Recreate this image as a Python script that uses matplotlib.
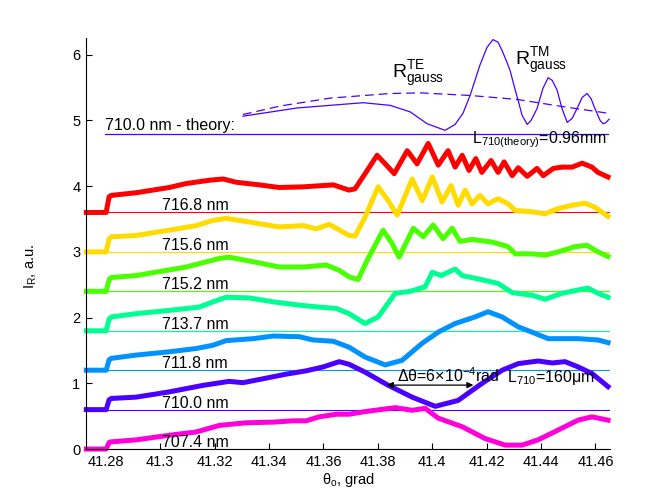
import matplotlib
matplotlib.use("Agg")
import matplotlib.pyplot as plt

plt.rcParams["font.family"] = ["Liberation Sans", "DejaVu Sans"]
plt.rcParams["mathtext.fontset"] = "custom"
plt.rcParams["mathtext.rm"] = "Liberation Sans"
plt.rcParams["mathtext.it"] = "Liberation Sans:italic"

# ---- measured traces (angle in grad, offset reflectance in a.u.) ----
x_716_8 = [41.2728, 41.2801, 41.2812, 41.2820, 41.2911, 41.3033, 41.3095, 41.3180, 41.3231, 41.3279,
           41.3364, 41.3437, 41.3526, 41.3636, 41.3694, 41.3716, 41.3753, 41.3797, 41.3827, 41.3860,
           41.3908, 41.3944, 41.3985, 41.4022, 41.4058, 41.4084, 41.4110, 41.4135, 41.4160, 41.4182,
           41.4216, 41.4242, 41.4264, 41.4294, 41.4316, 41.4349, 41.4385, 41.4408, 41.4445, 41.4477,
           41.4514, 41.4551, 41.4587, 41.4609, 41.4646]
y_716_8 = [3.60, 3.60, 3.84, 3.86, 3.90, 3.98, 4.04, 4.09, 4.11, 4.06,
           4.02, 3.98, 3.99, 4.02, 3.94, 3.96, 4.19, 4.47, 4.34, 4.19,
           4.54, 4.34, 4.65, 4.32, 4.54, 4.29, 4.47, 4.24, 4.42, 4.21,
           4.39, 4.21, 4.37, 4.16, 4.28, 4.15, 4.27, 4.16, 4.27, 4.29,
           4.29, 4.35, 4.29, 4.21, 4.14]

x_715_6 = [41.2728, 41.2801, 41.2812, 41.2820, 41.2911, 41.3033, 41.3132, 41.3194, 41.3242, 41.3290,
           41.3364, 41.3437, 41.3526, 41.3573, 41.3621, 41.3694, 41.3716, 41.3753, 41.3801, 41.3838,
           41.3871, 41.3926, 41.3963, 41.4000, 41.4036, 41.4069, 41.4095, 41.4121, 41.4146, 41.4175,
           41.4205, 41.4242, 41.4279, 41.4305, 41.4367, 41.4415, 41.4463, 41.4514, 41.4562, 41.4598,
           41.4646]
y_715_6 = [3.00, 3.00, 3.20, 3.23, 3.25, 3.33, 3.40, 3.48, 3.51, 3.48,
           3.43, 3.38, 3.40, 3.35, 3.42, 3.25, 3.24, 3.53, 3.99, 3.78,
           3.56, 4.11, 3.78, 4.14, 3.76, 4.01, 3.71, 3.94, 3.73, 3.86,
           3.73, 3.81, 3.73, 3.63, 3.61, 3.58, 3.66, 3.71, 3.74, 3.68,
           3.54]

x_715_2 = [41.2728, 41.2801, 41.2812, 41.2820, 41.2911, 41.3095, 41.3217, 41.3253, 41.3342, 41.3437,
           41.3526, 41.3610, 41.3658, 41.3694, 41.3727, 41.3764, 41.3819, 41.3852, 41.3878, 41.3930,
           41.3967, 41.4003, 41.4040, 41.4073, 41.4102, 41.4146, 41.4220, 41.4279, 41.4305, 41.4367,
           41.4415, 41.4463, 41.4525, 41.4569, 41.4609, 41.4646]
y_715_2 = [2.40, 2.40, 2.58, 2.61, 2.64, 2.77, 2.90, 2.92, 2.85, 2.77,
           2.77, 2.80, 2.72, 2.62, 2.58, 2.90, 3.33, 3.13, 2.92, 3.36,
           3.23, 3.41, 3.20, 3.36, 3.16, 3.19, 3.15, 3.08, 2.97, 2.97,
           2.95, 3.00, 3.08, 3.10, 3.00, 2.93]

x_713_7 = [41.2728, 41.2801, 41.2812, 41.2820, 41.2911, 41.3033, 41.3143, 41.3194, 41.3242, 41.3327,
           41.3415, 41.3511, 41.3584, 41.3647, 41.3694, 41.3753, 41.3801, 41.3864, 41.3919, 41.3974,
           41.4000, 41.4033, 41.4084, 41.4110, 41.4168, 41.4242, 41.4294, 41.4367, 41.4415, 41.4477,
           41.4536, 41.4573, 41.4609, 41.4646]
y_713_7 = [1.80, 1.80, 1.98, 2.01, 2.06, 2.11, 2.16, 2.24, 2.31, 2.30,
           2.24, 2.19, 2.16, 2.14, 2.06, 1.91, 2.01, 2.37, 2.40, 2.47,
           2.69, 2.64, 2.74, 2.64, 2.59, 2.52, 2.38, 2.34, 2.28, 2.37,
           2.42, 2.45, 2.37, 2.31]

x_711_8 = [41.2728, 41.2801, 41.2812, 41.2820, 41.2911, 41.3033, 41.3132, 41.3194, 41.3242, 41.3342,
           41.3415, 41.3511, 41.3562, 41.3636, 41.3694, 41.3753, 41.3827, 41.3889, 41.3963, 41.4022,
           41.4084, 41.4157, 41.4205, 41.4257, 41.4316, 41.4378, 41.4426, 41.4488, 41.4536, 41.4609,
           41.4646]
y_711_8 = [1.20, 1.20, 1.36, 1.38, 1.43, 1.48, 1.53, 1.58, 1.65, 1.68,
           1.72, 1.71, 1.66, 1.64, 1.55, 1.40, 1.28, 1.35, 1.61, 1.78,
           1.91, 2.01, 2.09, 2.01, 1.86, 1.76, 1.68, 1.68, 1.68, 1.66,
           1.62]

x_710_0 = [41.2728, 41.2801, 41.2812, 41.2820, 41.2911, 41.3033, 41.3158, 41.3253, 41.3304, 41.3378,
           41.3463, 41.3536, 41.3599, 41.3658, 41.3694, 41.3753, 41.3838, 41.3926, 41.4011, 41.4095,
           41.4183, 41.4257, 41.4316, 41.4389, 41.4441, 41.4488, 41.4536, 41.4587, 41.4646]
y_710_0 = [0.60, 0.60, 0.75, 0.77, 0.79, 0.87, 0.97, 1.03, 1.01, 1.07,
           1.14, 1.19, 1.25, 1.33, 1.29, 1.17, 0.97, 0.79, 0.65, 0.74,
           1.00, 1.20, 1.30, 1.34, 1.31, 1.33, 1.25, 1.15, 0.95]

x_707_4 = [41.2728, 41.2801, 41.2812, 41.2820, 41.2911, 41.3033, 41.3132, 41.3217, 41.3316, 41.3415,
           41.3489, 41.3536, 41.3584, 41.3647, 41.3694, 41.3753, 41.3864, 41.3926, 41.3974, 41.4022,
           41.4110, 41.4194, 41.4268, 41.4330, 41.4389, 41.4463, 41.4536, 41.4587, 41.4646]
y_707_4 = [0.00, 0.00, 0.10, 0.11, 0.14, 0.21, 0.26, 0.36, 0.40, 0.41,
           0.43, 0.43, 0.49, 0.53, 0.53, 0.57, 0.63, 0.59, 0.62, 0.47,
           0.34, 0.16, 0.06, 0.06, 0.14, 0.29, 0.44, 0.49, 0.44]

# ---- theory curves (offset 4.8) ----
x_tm = [41.3304, 41.3503, 41.3746, 41.3845, 41.3919, 41.3981, 41.4047, 41.4084, 41.4113, 41.4139,
        41.4175, 41.4201, 41.4223, 41.4242, 41.4257, 41.4275, 41.4286, 41.4305, 41.4316, 41.4330,
        41.4349, 41.4363, 41.4385, 41.4407, 41.4426, 41.4441, 41.4459, 41.4477, 41.4496, 41.4514,
        41.4532, 41.4551, 41.4569, 41.4584, 41.4598, 41.4617, 41.4628, 41.4639, 41.4650]
y_tm = [5.065, 5.19, 5.27, 5.23, 5.13, 4.95, 4.85, 4.94, 5.11, 5.38,
        5.84, 6.11, 6.23, 6.19, 6.06, 5.88, 5.76, 5.46, 5.30, 5.08,
        4.94, 5.00, 5.18, 5.49, 5.65, 5.61, 5.46, 5.18, 4.97, 5.03,
        5.18, 5.35, 5.41, 5.33, 5.18, 5.00, 4.95, 4.97, 5.02]
x_te = [41.3304, 41.3441, 41.3625, 41.3845, 41.3956, 41.4139, 41.4312, 41.4481, 41.4646]
y_te = [5.09, 5.22, 5.34, 5.41, 5.42, 5.38, 5.32, 5.21, 5.11]

wavelengths = ["716.8 nm", "715.6 nm", "715.2 nm", "713.7 nm", "711.8 nm", "710.0 nm", "707.4 nm"]
baselines = [3.6, 3.0, 2.4, 1.8, 1.2, 0.6, 0.0]
colors = ["#FF0000", "#FFDB00", "#49FF00", "#00FF92", "#0092FF", "#4900FF", "#FF00DB"]
traces = [(x_716_8, y_716_8), (x_715_6, y_715_6), (x_715_2, y_715_2), (x_713_7, y_713_7),
          (x_711_8, y_711_8), (x_710_0, y_710_0), (x_707_4, y_707_4)]
theory_base = 4.8
theory_color = "#4900FF"

xticks = [41.28, 41.30, 41.32, 41.34, 41.36, 41.38, 41.40, 41.42, 41.44, 41.46]
xticklabels = ["41.28", "41.3", "41.32", "41.34", "41.36", "41.38", "41.4", "41.42", "41.44", "41.46"]

fig = plt.figure(figsize=(6.72, 5.04), dpi=100)
ax = fig.add_axes([0.128, 0.109, 0.780, 0.815])
ax.set_xlim(41.2727, 41.4654)
ax.set_ylim(0, 6.25)

for (xs, ys), base, col, name in zip(traces, baselines, colors, wavelengths):
    ax.axhline(base, color=col, lw=0.8, zorder=1)
    ax.plot(xs, ys, color=col, lw=3.6, solid_joinstyle="round", zorder=2, clip_on=False)
    ax.text(41.3007, base + 0.03, name, fontsize=11.5, va="baseline", ha="left", zorder=3)

ax.plot([41.2798, 41.4646], [theory_base, theory_base], color=theory_color, lw=0.9)
ax.plot(x_tm, y_tm, color=theory_color, lw=0.9)
ax.plot(x_te, y_te, color=theory_color, lw=0.9, dashes=(7, 4))
ax.text(41.2798, 4.85, "710.0 nm - theory:", fontsize=11.5, va="baseline")

ax.text(41.3853, 5.64, r"$\mathregular{R^{TE}_{gauss}}$", fontsize=14, va="baseline")
ax.text(41.4305, 5.84, r"$\mathregular{R^{TM}_{gauss}}$", fontsize=14, va="baseline")
ax.text(41.4147, 4.65, r"$\mathregular{L_{710(theory)}}$=0.96mm", fontsize=11.5, va="baseline")
ax.text(41.4276, 1.02, r"$\mathregular{L_{710}}$=160μm", fontsize=11.5, va="baseline")
ax.text(41.3871, 1.02, r"Δθ=6×10$\mathregular{^{-4}}$rad", fontsize=11.5, va="baseline")
ax.annotate("", xy=(41.4151, 0.973), xytext=(41.3833, 0.973),
            arrowprops=dict(arrowstyle="<|-|>", color="k", lw=0.9, mutation_scale=9,
                            shrinkA=0, shrinkB=0))

ax.spines["top"].set_visible(False)
ax.spines["right"].set_visible(False)
ax.set_xticks(xticks)
ax.set_xticklabels(xticklabels)
ax.set_yticks(range(7))
ax.tick_params(direction="in", length=4, width=0.8, labelsize=10.5, pad=4)

ax.set_xlabel(r"$\mathregular{\theta_o}$, grad", fontsize=10.5, labelpad=2)
ax.set_ylabel(r"$\mathregular{I_R}$, a.u.", fontsize=10.5)
ax.yaxis.set_label_coords(-0.09, 0.445)

fig.savefig("out.png", dpi=100)
